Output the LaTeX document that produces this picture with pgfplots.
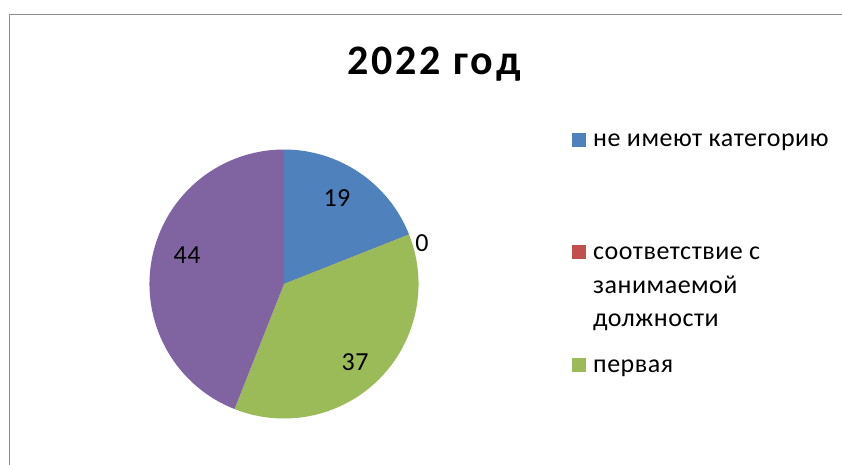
\documentclass[border=0pt]{standalone}
\usepackage{fontspec}
\setmainfont{Carlito}
\usepackage{pgfplots}
\usepackage{pgfplotstable}
\pgfplotsset{compat=1.18}

\definecolor{pie0}{HTML}{4F81BD}
\definecolor{pie1}{HTML}{C0504D}
\definecolor{pie2}{HTML}{9BBB59}
\definecolor{pie3}{HTML}{8064A2}
\definecolor{frame}{HTML}{8C8C8C}

% share of each group, and where its number is written (axis units, radius = 1)
\pgfplotstableread{
value lx     ly
19    0.394  0.639
0     1.026  0.305
37    0.528  -0.580
44    -0.721 0.216
}\piedata

\newcommand\labfont{\fontsize{26}{31}\selectfont\addfontfeatures{LetterSpace=2}}

\begin{document}
\begin{tikzpicture}[x=1pt,y=1pt]
\path[use as bounding box] (0,0) rectangle (842,464);
\draw[frame, line width=1.5pt] (9.5,-10) -- (9.5,449.5) -- (860,449.5);

\node[anchor=base, font=\bfseries\fontsize{42}{50}\selectfont\addfontfeatures{LetterSpace=7}]
  at (434,389) {2022 год};

\begin{axis}[at={(284pt,180pt)}, anchor=center,
  x=134.5pt, y=134.5pt, xmin=-1, xmax=1, ymin=-1, ymax=1,
  hide axis, clip=false]
\pgfplotsextra{%
  \gdef\cum{0}%
  \pgfplotstableforeachcolumnelement{value}\of\piedata\as\v{%
    \pgfmathsetmacro\a{90-3.6*\cum}%
    \pgfmathsetmacro\b{90-3.6*(\cum+\v)}%
    \pgfmathsetmacro\newcum{\cum+\v}%
    \xdef\cum{\newcum}%
    \fill[pie\pgfplotstablerow] (axis cs:0,0) -- (axis cs:{cos(\a)},{sin(\a)})
      arc[start angle=\a, end angle=\b, radius=134.5pt] -- cycle;
  }%
  \pgfplotstableforeachcolumnelement{value}\of\piedata\as\v{%
    \pgfplotstablegetelem{\pgfplotstablerow}{lx}\of\piedata\let\lx\pgfplotsretval
    \pgfplotstablegetelem{\pgfplotstablerow}{ly}\of\piedata\let\ly\pgfplotsretval
    \node[font=\labfont] at (axis cs:\lx,\ly) {\v};
  }%
}
\end{axis}

\begin{scope}[every node/.style={anchor=base west, inner sep=0pt, font=\labfont}]
\fill[pie0] (572,317) rectangle (586,331);
\node at (593,317) {не имеют категорию};
\fill[pie1] (572,205) rectangle (586,219);
\node at (593,205) {соответствие с};
\node at (593,171) {занимаемой};
\node at (593,138) {должности};
\fill[pie2] (572,92) rectangle (586,106);
\node at (593,92) {первая};
\end{scope}
\end{tikzpicture}
\end{document}
